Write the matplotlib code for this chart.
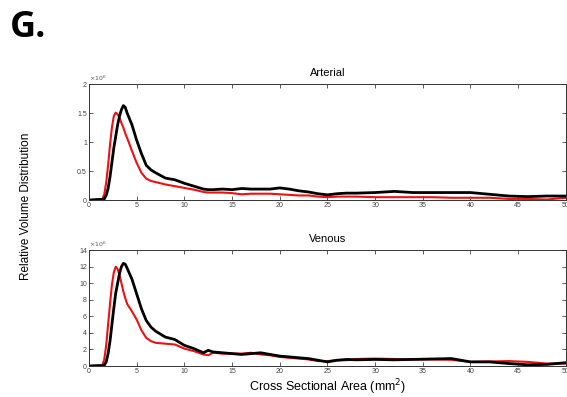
import matplotlib
matplotlib.use("Agg")
import matplotlib.pyplot as plt

plt.rcParams['font.family'] = ['Liberation Sans', 'DejaVu Sans']

# area grid (mm^2)
area = [0, 1, 1.4, 1.6, 1.8, 2.0, 2.2, 2.4, 2.6, 2.8, 3.0, 3.2, 3.4, 3.6, 3.8, 4.0,
        4.5, 5, 5.5, 6, 6.5, 7, 8, 9, 10, 11, 12, 12.5, 13, 14, 15, 16, 17, 18, 19,
        20, 21, 22, 23, 24, 25, 26, 27, 28, 30, 32, 34, 36, 38, 40, 42, 44, 46, 48, 50]

# arterial (x10^6)
art_black = [0, 0.01, 0.01, 0.02, 0.08, 0.2, 0.4, 0.65, 0.9, 1.1, 1.3, 1.45, 1.56, 1.63, 1.6, 1.5,
             1.3, 1.03, 0.8, 0.6, 0.52, 0.47, 0.38, 0.35, 0.29, 0.24, 0.19, 0.18, 0.18, 0.19, 0.18,
             0.2, 0.19, 0.19, 0.19, 0.21, 0.19, 0.16, 0.14, 0.11, 0.09, 0.11, 0.12, 0.12, 0.13,
             0.15, 0.13, 0.13, 0.13, 0.13, 0.1, 0.07, 0.06, 0.07, 0.07]
art_red = [0, 0.01, 0.02, 0.1, 0.3, 0.6, 0.95, 1.25, 1.45, 1.51, 1.48, 1.42, 1.33, 1.25, 1.15, 1.07,
           0.85, 0.64, 0.47, 0.37, 0.33, 0.31, 0.27, 0.24, 0.21, 0.18, 0.14, 0.13, 0.13, 0.13, 0.12,
           0.1, 0.11, 0.11, 0.11, 0.1, 0.09, 0.08, 0.08, 0.06, 0.05, 0.06, 0.06, 0.06, 0.05,
           0.05, 0.05, 0.05, 0.04, 0.04, 0.04, 0.02, 0.02, 0.01, 0.04]

# venous
ven_black = [0, 0.05, 0.05, 0.1, 0.5, 1.5, 3.0, 5.0, 7.0, 8.8, 10.0, 11.2, 12.0, 12.4, 12.3, 11.8,
             10.5, 8.7, 6.9, 5.5, 4.7, 4.2, 3.5, 3.2, 2.5, 2.1, 1.6, 1.9, 1.7, 1.6, 1.5,
             1.4, 1.5, 1.6, 1.4, 1.2, 1.1, 1.0, 0.9, 0.7, 0.5, 0.7, 0.8, 0.75, 0.8,
             0.75, 0.8, 0.85, 0.9, 0.5, 0.5, 0.3, 0.15, 0.2, 0.4]
ven_red = [0, 0.05, 0.1, 0.8, 2.5, 5.0, 7.5, 9.8, 11.3, 12.0, 11.7, 11.0, 10.0, 9.0, 8.2, 7.5,
           6.6, 5.6, 4.3, 3.4, 3.0, 2.8, 2.7, 2.6, 2.1, 1.8, 1.4, 1.3, 1.6, 1.5, 1.5,
           1.5, 1.6, 1.4, 1.3, 1.1, 1.0, 0.9, 0.8, 0.6, 0.6, 0.7, 0.7, 0.85, 0.9,
           0.85, 0.8, 0.8, 0.75, 0.5, 0.55, 0.6, 0.5, 0.3, 0.3]

x_ticks = [0, 5, 10, 15, 20, 25, 30, 35, 40, 45, 50]
art_ticks = [0, 0.5, 1, 1.5, 2]
art_labels = ['0', '0.5', '1', '1.5', '2']
ven_ticks = [0, 2, 4, 6, 8, 10, 12, 14]

fig = plt.figure(figsize=(5.67, 3.97), dpi=100)
ax1 = fig.add_axes([0.157, 0.496, 0.841, 0.292])
ax2 = fig.add_axes([0.157, 0.078, 0.841, 0.292])


def estilo(ax, yt, ylim, ylabels=None):
    ax.set_xlim(0, 50)
    ax.set_ylim(*ylim)
    ax.set_xticks(x_ticks)
    ax.set_yticks(yt)
    if ylabels is not None:
        ax.set_yticklabels(ylabels)
    ax.tick_params(direction='in', top=True, right=True, length=3, width=0.6,
                   labelsize=5, colors='#444444', pad=1.5)
    for s in ax.spines.values():
        s.set_linewidth(0.7)
        s.set_color('#333333')
    ax.text(0.0, 1.01, r'$\times10^6$', transform=ax.transAxes, fontsize=4.5,
            color='#555555', ha='left', va='bottom')


ax1.plot(area, art_red, color='#ee1111', lw=1.5)
ax1.plot(area, art_black, color='black', lw=2.0)
estilo(ax1, art_ticks, (0, 2), art_labels)
ax1.set_title('Arterial', fontsize=8, pad=6)

ax2.plot(area, ven_red, color='#ee1111', lw=1.5)
ax2.plot(area, ven_black, color='black', lw=2.0)
estilo(ax2, ven_ticks, (0, 14))
ax2.set_title('Venous', fontsize=8, pad=6)
ax2.set_xlabel('Cross Sectional Area (mm$^2$)', fontsize=9, labelpad=2)

fig.text(0.045, 0.48, 'Relative Volume Distribution', rotation=90, fontsize=8.5,
         ha='center', va='center')
fig.text(0.018, 0.975, 'G.', fontsize=26, fontweight='bold', family='Open Sans',
         ha='left', va='top')

fig.savefig('out.png', dpi=100)
